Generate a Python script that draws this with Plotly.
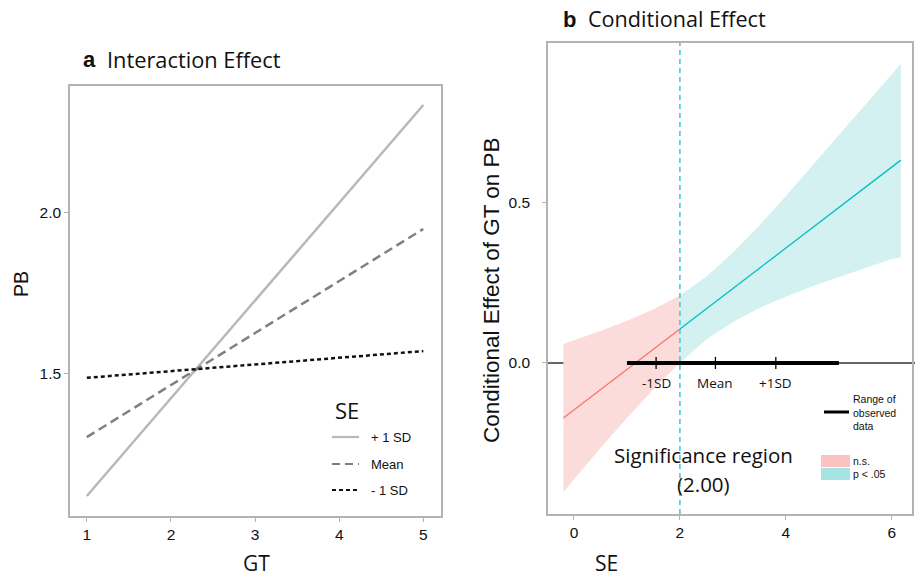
import plotly.graph_objects as go

W, H = 915, 576

# ---------------- data: panel a ----------------
gt = [1, 5]
pb_plus_1sd = [1.121, 2.335]
pb_mean = [1.304, 1.950]
pb_minus_1sd = [1.488, 1.571]
a_xticks = [1, 2, 3, 4, 5]
a_yticks = [1.5, 2.0]
a_ytick_labels = ["1.5", "2.0"]

# ---------------- data: panel b ----------------
se_ns = [-0.2, 0.0, 0.5, 1.0, 1.5, 2.0]
eff_ns = [-0.172, -0.147, -0.083, -0.020, 0.043, 0.106]
lo_ns = [-0.403, -0.364, -0.266, -0.172, -0.082, 0.001]
hi_ns = [0.059, 0.070, 0.100, 0.132, 0.168, 0.211]

se_sig = [2.0, 2.5, 3.0, 3.5, 4.0, 4.5, 5.0, 5.5, 6.0, 6.17]
eff_sig = [0.106, 0.170, 0.233, 0.296, 0.359, 0.423, 0.486, 0.549, 0.613, 0.634]
lo_sig = [0.001, 0.073, 0.128, 0.172, 0.207, 0.240, 0.269, 0.297, 0.325, 0.330]
hi_sig = [0.211, 0.270, 0.345, 0.430, 0.522, 0.617, 0.712, 0.808, 0.904, 0.935]

jn_point = 2.0
observed_range = [1.0, 5.0]
sd_marks = [1.55, 2.67, 3.81]
sd_labels = ["-1SD", "Mean", "+1SD"]
b_xticks = [0, 2, 4, 6]
b_yticks = [0.0, 0.5]
b_ytick_labels = ["0.0", "0.5"]

PINK = "#F8766D"
CYAN = "#00BFC4"
PINK_FILL = "#fcdcda"
CYAN_FILL = "#d4f1f1"
FRAME = "#b3b3b3"


def px(x):
    return x / W


def py(y):
    return 1 - y / H


fig = go.Figure()

# panel a lines
fig.add_trace(go.Scatter(x=gt, y=pb_plus_1sd, mode="lines", xaxis="x", yaxis="y",
                         line=dict(color="#b8b8b8", width=2.5), showlegend=False))
fig.add_trace(go.Scatter(x=gt, y=pb_mean, mode="lines", xaxis="x", yaxis="y",
                         line=dict(color="#808080", width=2.5, dash="9px,5px"), showlegend=False))
fig.add_trace(go.Scatter(x=gt, y=pb_minus_1sd, mode="lines", xaxis="x", yaxis="y",
                         line=dict(color="#111111", width=2.5, dash="4px,3px"), showlegend=False))

# panel b bands
fig.add_trace(go.Scatter(x=se_ns + se_ns[::-1], y=hi_ns + lo_ns[::-1], mode="lines",
                         fill="toself", fillcolor=PINK_FILL, line=dict(width=0),
                         xaxis="x2", yaxis="y2", showlegend=False, hoverinfo="skip"))
fig.add_trace(go.Scatter(x=se_sig + se_sig[::-1], y=hi_sig + lo_sig[::-1], mode="lines",
                         fill="toself", fillcolor=CYAN_FILL, line=dict(width=0),
                         xaxis="x2", yaxis="y2", showlegend=False, hoverinfo="skip"))
fig.add_trace(go.Scatter(x=se_ns, y=eff_ns, mode="lines", line=dict(color=PINK, width=1.3),
                         xaxis="x2", yaxis="y2", showlegend=False))
fig.add_trace(go.Scatter(x=se_sig, y=eff_sig, mode="lines", line=dict(color=CYAN, width=1.3),
                         xaxis="x2", yaxis="y2", showlegend=False))

# range of observed data
fig.add_trace(go.Scatter(x=observed_range, y=[0, 0], mode="lines",
                         line=dict(color="black", width=4), xaxis="x2", yaxis="y2",
                         showlegend=False))
tx, ty = [], []
for s in sd_marks:
    tx += [s, s, None]
    ty += [-0.019, 0.019, None]
fig.add_trace(go.Scatter(x=tx, y=ty, mode="lines", line=dict(color="black", width=1.3),
                         xaxis="x2", yaxis="y2", showlegend=False))

ann = []
for s, lab in zip(sd_marks, sd_labels):
    ann.append(dict(x=s, y=0, xref="x2", yref="y2", text=lab, showarrow=False,
                    yshift=-20, font=dict(family="Open Sans", size=13.5, color="#111")))

shapes = []
# zero line in b
shapes.append(dict(type="line", xref="paper", yref="y2", x0=px(548), x1=1, y0=0, y1=0,
                   line=dict(color="#333", width=1.5), layer="below"))
# JN dashed line
shapes.append(dict(type="line", xref="x2", yref="y2 domain", x0=jn_point, x1=jn_point,
                   y0=0, y1=1, line=dict(color="#4ccacd", width=1.6, dash="5px,4px")))


def text(x, y, t, size, family="Open Sans", xanchor="left", color="#111", bold=False,
         angle=0, align="center"):
    if bold:
        t = "<b>" + t + "</b>"
    ann.append(dict(x=px(x), y=py(y), xref="paper", yref="paper", text=t, showarrow=False,
                    xanchor=xanchor, yanchor="middle", textangle=angle, align=align,
                    font=dict(family=family, size=size, color=color)))


# panel titles
text(81, 60, "a", 22, family="Liberation Sans", bold=True)
text(105, 59, "Interaction Effect", 21.8)
text(561, 19, "b", 22, family="Liberation Sans", bold=True)
text(586, 18, "Conditional Effect", 21.6)

# axis titles
text(256, 563, "GT", 21, xanchor="center")
text(606, 563, "SE", 21, xanchor="center")
text(21, 284, "PB", 19.5, family="Liberation Sans", xanchor="center", angle=-90)
text(491, 290, "Conditional Effect of GT on PB", 22.5, family="Liberation Sans",
     xanchor="center", angle=-90)

# significance text
text(703, 455, "Significance region", 20.5, xanchor="center")
text(703, 484, "(2.00)", 20.5, xanchor="center")

# legend a
text(347, 410, "SE", 22, xanchor="center")
leg_a = [("+ 1 SD", "#b8b8b8", "solid", 437),
         ("Mean", "#808080", "8px,5px", 464),
         ("- 1 SD", "#111111", "4px,3px", 490)]
for lab, col, dash, yy in leg_a:
    shapes.append(dict(type="line", xref="paper", yref="paper", x0=px(332), x1=px(359),
                       y0=py(yy), y1=py(yy), line=dict(color=col, width=2.2, dash=dash)))
    text(369, yy, lab, 13, family="Liberation Sans", align="left")

# legend b
shapes.append(dict(type="line", xref="paper", yref="paper", x0=px(824), x1=px(849),
                   y0=py(412), y1=py(412), line=dict(color="black", width=3)))
text(851, 412, "Range of<br>observed<br>data", 10.5, family="Liberation Sans", align="left")
shapes.append(dict(type="rect", xref="paper", yref="paper", x0=px(821), x1=px(850),
                   y0=py(467), y1=py(455), line=dict(width=0), fillcolor="#fbc3c0"))
shapes.append(dict(type="rect", xref="paper", yref="paper", x0=px(821), x1=px(850),
                   y0=py(480), y1=py(468), line=dict(width=0), fillcolor="#a6e3e3"))
text(851, 461, "n.s.", 10.5, family="Liberation Sans", align="left")
text(851, 474, "p < .05", 10.5, family="Liberation Sans", align="left")

axis_common = dict(showgrid=False, zeroline=False, showline=True, mirror=True,
                   linecolor=FRAME, linewidth=1.5, ticks="outside", ticklen=4,
                   tickcolor=FRAME, tickwidth=1.2,
                   tickfont=dict(family="Liberation Sans", size=15.5, color="#111"))

fig.update_layout(
    width=W, height=H, margin=dict(l=0, r=0, t=0, b=0),
    paper_bgcolor="white", plot_bgcolor="white",
    xaxis=dict(domain=[px(70), px(441)], range=[0.8, 5.21], tickvals=a_xticks,
               anchor="y", **axis_common),
    yaxis=dict(domain=[py(516), py(86)], range=[1.059, 2.394], tickvals=a_yticks,
               ticktext=a_ytick_labels, anchor="x", **axis_common),
    xaxis2=dict(domain=[px(548), px(912)], range=[-0.49, 6.38], tickvals=b_xticks,
                anchor="y2", **axis_common),
    yaxis2=dict(domain=[py(514), py(43)], range=[-0.472, 1.0], tickvals=b_yticks,
                ticktext=b_ytick_labels, anchor="x2", ticklabelstandoff=9, **axis_common),
    annotations=ann, shapes=shapes,
)

fig.write_html("out.html", config={"displayModeBar": False},
               post_script="document.body.style.margin='0px';document.body.style.overflow='hidden';")
